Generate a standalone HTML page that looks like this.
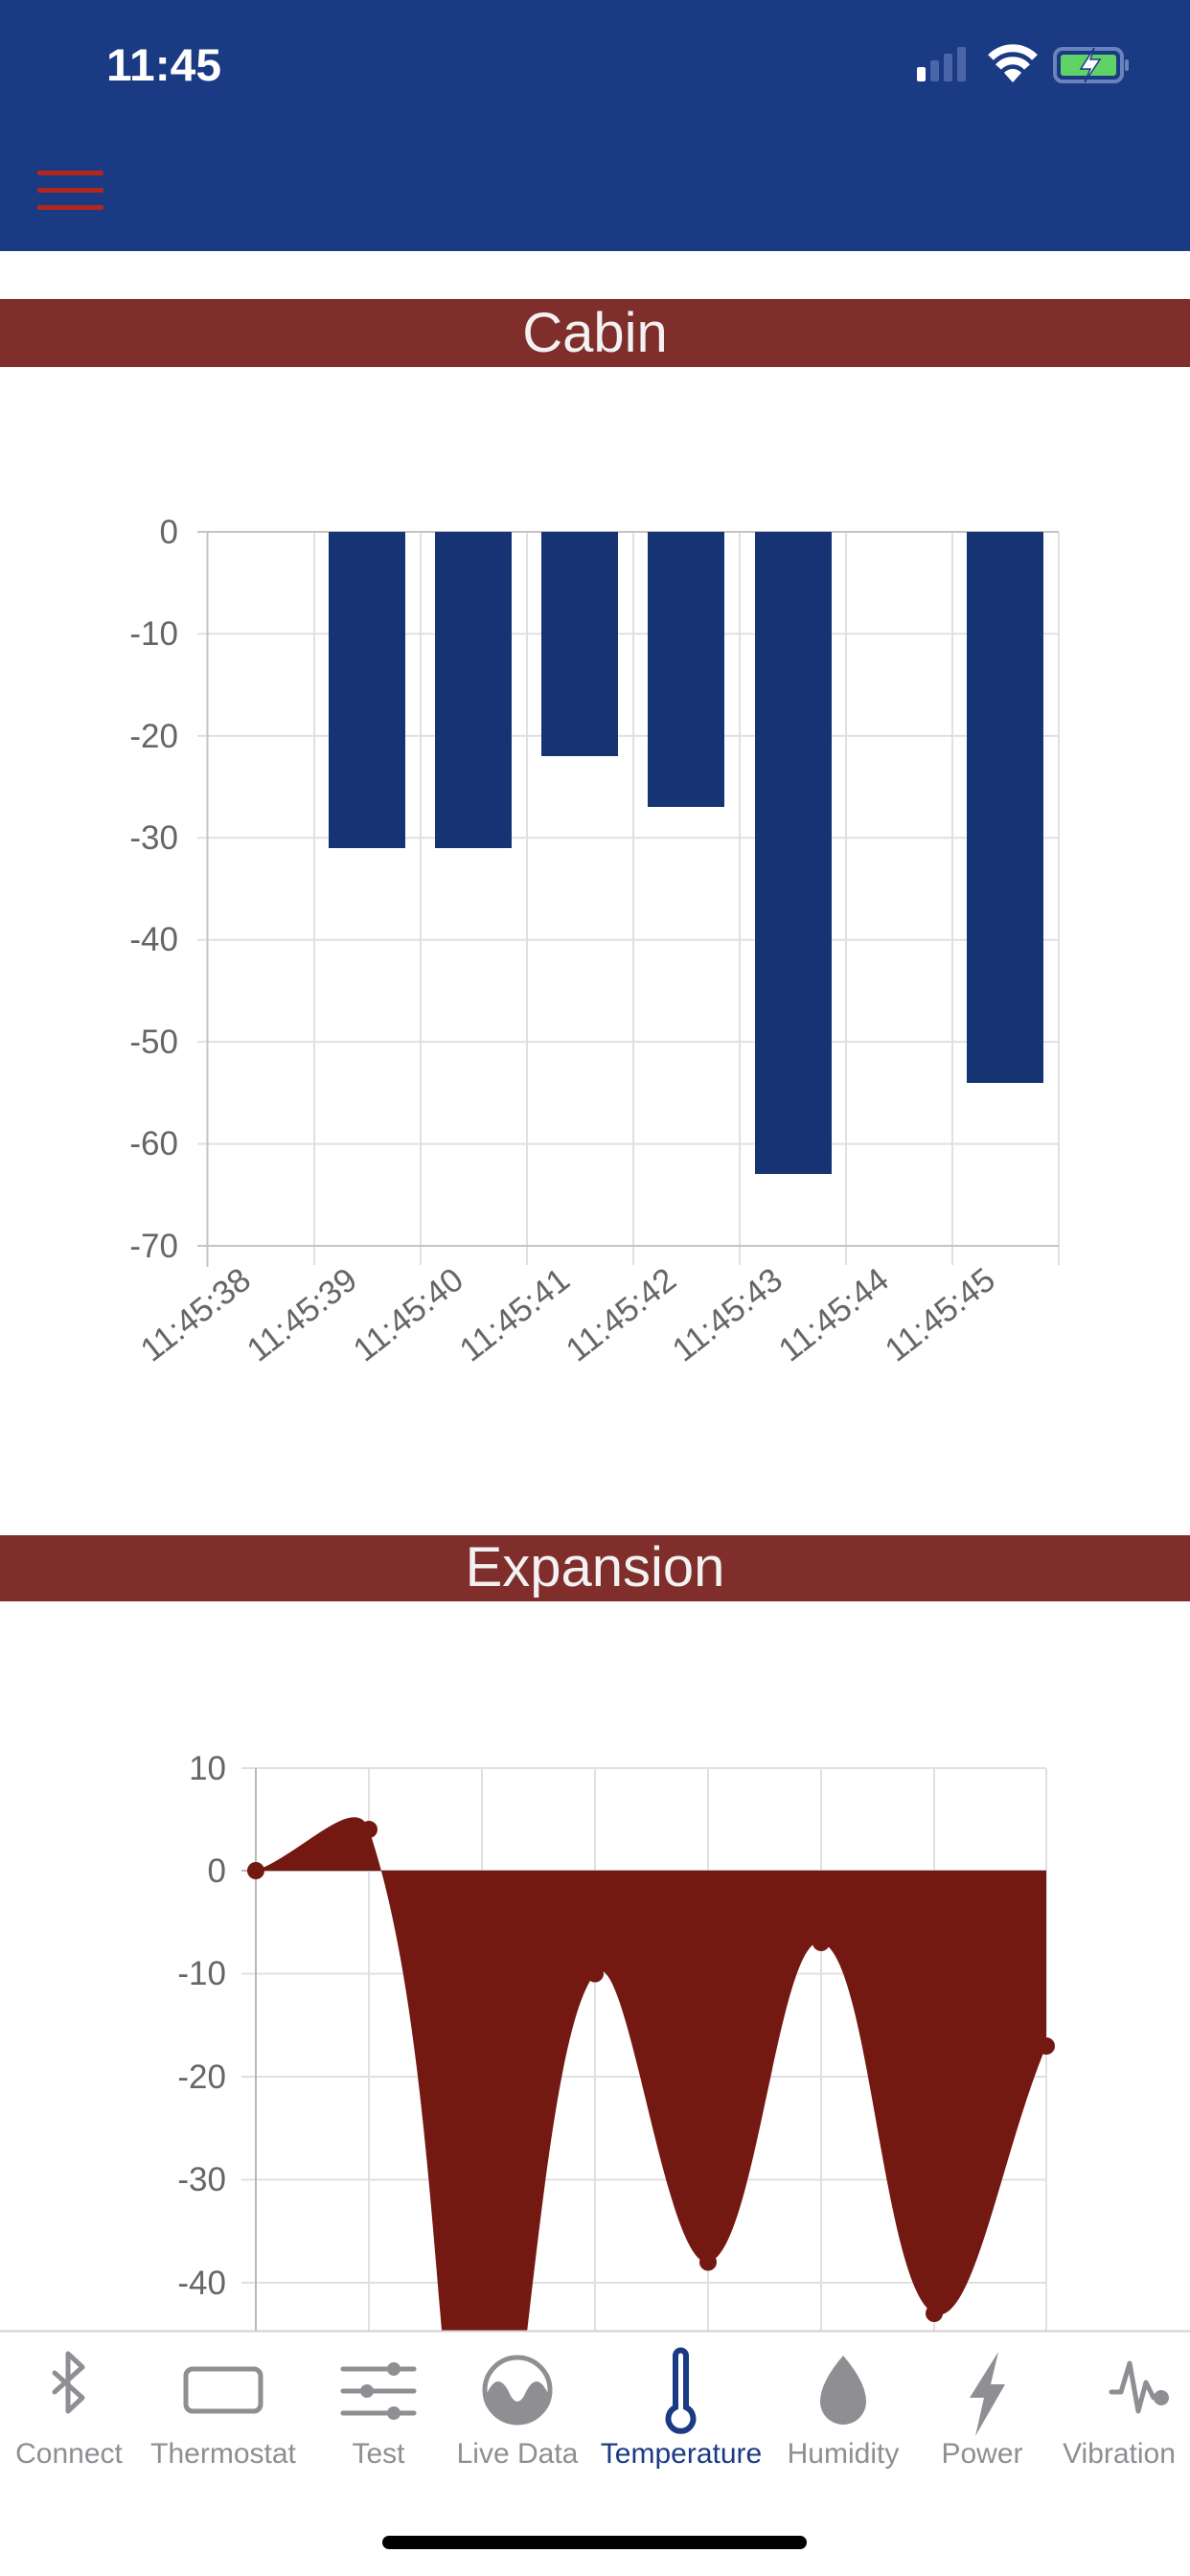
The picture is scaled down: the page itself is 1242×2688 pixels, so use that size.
<!DOCTYPE html>
<html><head><meta charset="utf-8"><style>
html,body{margin:0;padding:0;width:1242px;height:2688px;overflow:hidden;background:#fff;font-family:"Liberation Sans",sans-serif;}
</style></head><body>
<svg width="1242" height="2688" viewBox="0 0 1242 2688" xmlns="http://www.w3.org/2000/svg" font-family="Liberation Sans, sans-serif">
<rect x="0" y="0" width="1242" height="262" fill="#1b3a84"/>
<text x="111" y="84" fill="#fff" font-size="47" font-weight="bold" textLength="120" lengthAdjust="spacingAndGlyphs">11:45</text>
<!-- signal -->
<rect x="957" y="70" width="9" height="15" rx="2" fill="#fff"/>
<rect x="971" y="63" width="9" height="22" rx="2" fill="#4a66a8"/>
<rect x="985" y="56" width="9" height="29" rx="2" fill="#4a66a8"/>
<rect x="999" y="49" width="9" height="36" rx="2" fill="#4a66a8"/>
<!-- wifi -->
<path d="M1034,60 A32,32 0 0 1 1080,60" stroke="#fff" stroke-width="8" fill="none"/>
<path d="M1042,70 A20,20 0 0 1 1072,70" stroke="#fff" stroke-width="8" fill="none"/>
<path d="M1057,86 L1048,76 A12,12 0 0 1 1066,76 Z" fill="#fff"/>
<!-- battery -->
<rect x="1101" y="51" width="70" height="34" rx="8" fill="none" stroke="#6a83bb" stroke-width="4"/>
<rect x="1107" y="57" width="58" height="22" rx="3" fill="#5fd366"/>
<rect x="1174" y="62" width="4" height="12" rx="2" fill="#6a83bb"/>
<path d="M1142,50 L1128,72 L1138,72 L1132,86 L1148,62 L1138,62 Z" fill="#fff" stroke="#1b3a84" stroke-width="1.5"/>
<!-- hamburger -->
<rect x="39" y="178" width="69" height="5" rx="2" fill="#b3261e"/>
<rect x="39" y="196" width="69" height="5" rx="2" fill="#b3261e"/>
<rect x="39" y="214" width="69" height="5" rx="2" fill="#b3261e"/>

<!-- Cabin band -->
<rect x="0" y="312" width="1242" height="71" fill="#7f2e2b"/>
<text x="621" y="367" fill="#f2f2f2" font-size="58" text-anchor="middle">Cabin</text>

<!-- Chart 1 grid -->
<g stroke="#e0e0e0" stroke-width="2">
<line x1="206" y1="661.4" x2="1105" y2="661.4"/>
<line x1="206" y1="767.9" x2="1105" y2="767.9"/>
<line x1="206" y1="874.3" x2="1105" y2="874.3"/>
<line x1="206" y1="980.7" x2="1105" y2="980.7"/>
<line x1="206" y1="1087.1" x2="1105" y2="1087.1"/>
<line x1="206" y1="1193.6" x2="1105" y2="1193.6"/>
<line x1="328" y1="555" x2="328" y2="1320"/>
<line x1="439" y1="555" x2="439" y2="1320"/>
<line x1="550" y1="555" x2="550" y2="1320"/>
<line x1="661" y1="555" x2="661" y2="1320"/>
<line x1="772" y1="555" x2="772" y2="1320"/>
<line x1="883" y1="555" x2="883" y2="1320"/>
<line x1="994" y1="555" x2="994" y2="1320"/>
<line x1="1105" y1="555" x2="1105" y2="1320"/>
</g>
<g stroke="#c4c4c4" stroke-width="2">
<line x1="206" y1="555" x2="1105" y2="555"/>
<line x1="206" y1="1300" x2="1105" y2="1300"/>
<line x1="216.5" y1="555" x2="216.5" y2="1322"/>
</g>
<g fill="#163473">
<rect x="343" y="555" width="80" height="330"/>
<rect x="454" y="555" width="80" height="330"/>
<rect x="565" y="555" width="80" height="234"/>
<rect x="676" y="555" width="80" height="287"/>
<rect x="788" y="555" width="80" height="670"/>
<rect x="1009" y="555" width="80" height="575"/>
</g>
<g fill="#666" font-size="35" text-anchor="end">
<text x="186" y="567">0</text>
<text x="186" y="673">-10</text>
<text x="186" y="780">-20</text>
<text x="186" y="886">-30</text>
<text x="186" y="992">-40</text>
<text x="186" y="1099">-50</text>
<text x="186" y="1205">-60</text>
<text x="186" y="1312">-70</text>
</g>
<g fill="#666" font-size="35" text-anchor="end">
<text transform="translate(264,1340) rotate(-38)">11:45:38</text>
<text transform="translate(375,1340) rotate(-38)">11:45:39</text>
<text transform="translate(486,1340) rotate(-38)">11:45:40</text>
<text transform="translate(597,1340) rotate(-38)">11:45:41</text>
<text transform="translate(708,1340) rotate(-38)">11:45:42</text>
<text transform="translate(819,1340) rotate(-38)">11:45:43</text>
<text transform="translate(930,1340) rotate(-38)">11:45:44</text>
<text transform="translate(1041,1340) rotate(-38)">11:45:45</text>
</g>

<!-- Expansion band -->
<rect x="0" y="1602" width="1242" height="69" fill="#7f2e2b"/>
<text x="621" y="1655" fill="#f2f2f2" font-size="58" text-anchor="middle">Expansion</text>

<!-- Chart 2 -->
<g stroke="#e0e0e0" stroke-width="2">
<line x1="252" y1="1845" x2="1092" y2="1845"/>
<line x1="252" y1="2059.5" x2="1092" y2="2059.5"/>
<line x1="252" y1="2167" x2="1092" y2="2167"/>
<line x1="252" y1="2274.5" x2="1092" y2="2274.5"/>
<line x1="252" y1="2382" x2="1092" y2="2382"/>
<line x1="385" y1="1845" x2="385" y2="2432"/>
<line x1="503" y1="1845" x2="503" y2="2432"/>
<line x1="621" y1="1845" x2="621" y2="2432"/>
<line x1="739" y1="1845" x2="739" y2="2432"/>
<line x1="857" y1="1845" x2="857" y2="2432"/>
<line x1="975" y1="1845" x2="975" y2="2432"/>
<line x1="1092" y1="1845" x2="1092" y2="2432"/>
</g>
<g stroke="#b8b8b8" stroke-width="2">
<line x1="252" y1="1952" x2="1092" y2="1952"/>
<line x1="267" y1="1845" x2="267" y2="2432"/>
</g>
<path d="M267,1952 C314.2,1934.8 371.5,1868.9 385,1909 C465.9,2148.6 450.6,2617.6 503,2651 C545,2677.8 559.5,2135.1 621,2059.5 C653.9,2018.9 693.9,2366.7 739,2360.5 C788.3,2353.7 813,2017 857,2027 C907.4,2038.4 921.2,2389.3 975,2414 C1015.2,2432.5 1045.2,2246.6 1092,2135 L1092,1952 Z" fill="#741812"/>
<g fill="#741812">
<circle cx="267" cy="1952" r="9"/>
<circle cx="385" cy="1909" r="9"/>
<circle cx="621" cy="2059.5" r="9"/>
<circle cx="739" cy="2360.5" r="9"/>
<circle cx="857" cy="2027" r="9"/>
<circle cx="975" cy="2414" r="9"/>
<circle cx="1092" cy="2135" r="9"/>
</g>
<g fill="#666" font-size="35" text-anchor="end">
<text x="236" y="1857">10</text>
<text x="236" y="1964">0</text>
<text x="236" y="2071">-10</text>
<text x="236" y="2179">-20</text>
<text x="236" y="2286">-30</text>
<text x="236" y="2394">-40</text>
</g>

<!-- Tab bar -->
<rect x="0" y="2432" width="1242" height="256" fill="#fff"/>
<line x1="0" y1="2432.5" x2="1242" y2="2432.5" stroke="#d0d0d0" stroke-width="2"/>
<g stroke="#8e8e93" stroke-width="5" fill="none" stroke-linecap="round" stroke-linejoin="round">
<path d="M57,2476 L86,2502 L71,2516 L71,2456 L86,2470 L57,2496"/>
<rect x="194" y="2472" width="78" height="44" rx="7"/>
<line x1="358" y1="2472" x2="432" y2="2472"/>
<line x1="358" y1="2495" x2="432" y2="2495"/>
<line x1="358" y1="2518" x2="432" y2="2518"/>
<circle cx="540" cy="2494" r="34"/>
<path d="M1160,2496 L1170,2496 L1179,2466 L1188,2516 L1196,2486 L1204,2502 L1212,2502"/>
</g>
<g fill="#8e8e93">
<circle cx="411" cy="2472" r="7"/><circle cx="383" cy="2495" r="7"/><circle cx="411" cy="2518" r="7"/>
<path d="M507,2500 Q520,2470 533,2500 Q540,2512 547,2500 Q560,2470 573,2500 A34,34 0 0 1 507,2500 Z"/>
<path d="M880,2458 Q856,2486 856,2506 A24,24 0 0 0 904,2506 Q904,2486 880,2458 Z"/>
<path d="M1042,2454 L1012,2502 L1027,2502 L1018,2542 L1049,2488 L1034,2488 Z"/>
<circle cx="1212" cy="2502" r="8"/>
</g>
<g stroke="#1b3a84" stroke-width="6" fill="none">
<path d="M705,2458 A5,5 0 0 1 716,2458 L716,2512 A13,13 0 1 1 705,2512 Z"/>
</g>
<g font-size="30" text-anchor="middle" fill="#8e8e93">
<text x="72" y="2570">Connect</text>
<text x="233" y="2570">Thermostat</text>
<text x="395" y="2570">Test</text>
<text x="540" y="2570">Live Data</text>
<text x="711" y="2570" fill="#1b3a84">Temperature</text>
<text x="880" y="2570">Humidity</text>
<text x="1025" y="2570">Power</text>
<text x="1168" y="2570">Vibration</text>
</g>
<rect x="399" y="2646" width="443" height="14" rx="7" fill="#000"/>
</svg>
</body></html>
